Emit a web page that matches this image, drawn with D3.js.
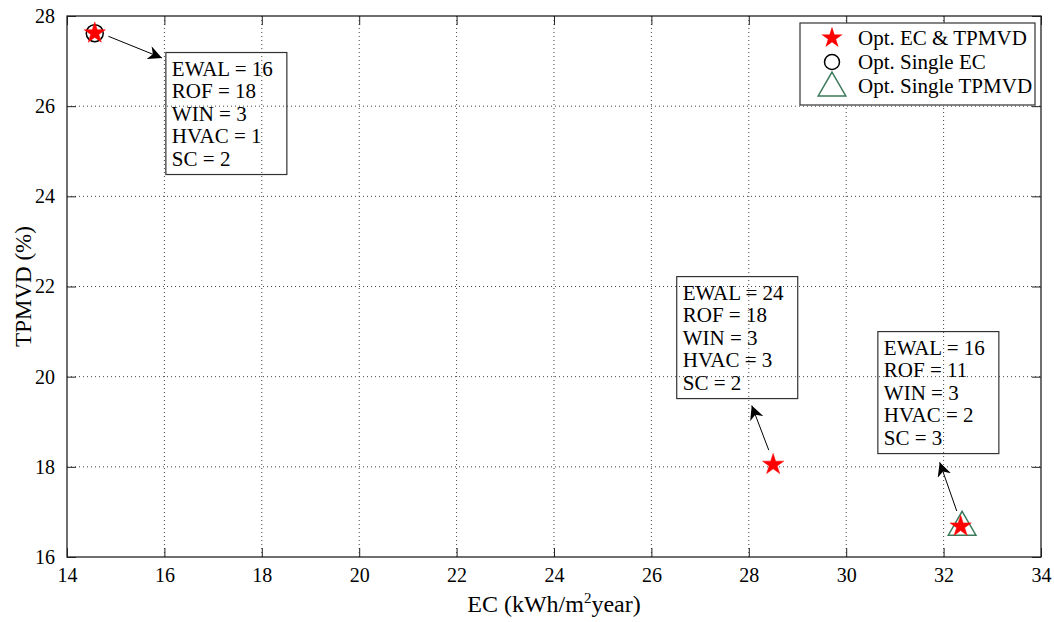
<!DOCTYPE html>
<html><head><meta charset="utf-8">
<script src="https://cdn.jsdelivr.net/npm/d3@7"></script>
<style>body{margin:0;background:#fff}svg{display:block}</style>
</head><body><svg id="c" width="1054" height="622"></svg>
<script>
const xTicks=[14,16,18,20,22,24,26,28,30,32,34];
const yTicks=[16,18,20,22,24,26,28];
const paretoPoints=[{x:14.57,y:27.62},{x:28.5,y:18.05},{x:32.35,y:16.68}];
const singleEC=[{x:14.57,y:27.62}];
const singleTPMVD=[{x:32.38,y:16.66}];
const annotations=[
 {from:[14.85,27.55],to:[15.95,27.07],box:[16.03,27.19],lines:["EWAL = 16","ROF = 18","WIN = 3","HVAC = 1","SC = 2"]},
 {from:[28.41,18.37],to:[28.06,19.36],box:[26.52,22.22],lines:["EWAL = 24","ROF = 18","WIN = 3","HVAC = 3","SC = 2"]},
 {from:[32.27,17.02],to:[31.92,18.1],box:[30.65,21.0],lines:["EWAL = 16","ROF = 11","WIN = 3","HVAC = 2","SC = 3"]}
];
const legendItems=["Opt. EC & TPMVD","Opt. Single EC","Opt. Single TPMVD"];

const FONT='"Liberation Serif", "Times New Roman", Times, serif';
const svg=d3.select("#c");
const L=67,R=1041,T=16,B=557;
const x=d3.scaleLinear().domain([14,34]).range([L,R]);
const y=d3.scaleLinear().domain([16,28]).range([B,T]);

// grid
const g=svg.append("g");
g.selectAll(".gx").data(xTicks.slice(1,-1)).join("line").attr("x1",d=>x(d)).attr("x2",d=>x(d)).attr("y1",T).attr("y2",B).attr("stroke","#444").attr("stroke-width",1).attr("stroke-dasharray","1,3");
g.selectAll(".gy").data(yTicks.slice(1,-1)).join("line").attr("y1",d=>y(d)).attr("y2",d=>y(d)).attr("x1",L).attr("x2",R).attr("stroke","#444").attr("stroke-width",1).attr("stroke-dasharray","1,3");

// axes
const ax=svg.append("g").attr("transform",`translate(0,${B})`).call(d3.axisBottom(x).tickValues(xTicks).tickSize(-9).tickPadding(11).tickFormat(d3.format("d")));
const ay=svg.append("g").attr("transform",`translate(${L},0)`).call(d3.axisLeft(y).tickValues(yTicks).tickSize(-9).tickPadding(12).tickFormat(d3.format("d")));
const axT=svg.append("g").attr("transform",`translate(0,${T})`).call(d3.axisTop(x).tickValues(xTicks).tickSize(-9).tickFormat(""));
const ayR=svg.append("g").attr("transform",`translate(${R},0)`).call(d3.axisRight(y).tickValues(yTicks).tickSize(-9).tickFormat(""));
[ax,ay,axT,ayR].forEach(a=>{a.attr("font-family",FONT).attr("font-size",20);a.select(".domain").remove();a.selectAll("line").attr("stroke","#222");a.selectAll("text").attr("fill","#000");});
svg.append("rect").attr("x",L).attr("y",T).attr("width",R-L).attr("height",B-T).attr("fill","none").attr("stroke","#222").attr("stroke-width",1.3);

// axis labels
svg.append("text").attr("x",(L+R)/2).attr("y",612).attr("text-anchor","middle").attr("font-family",FONT).attr("font-size",24)
 .html('EC (kWh/m<tspan dy="-9" font-size="15">2</tspan><tspan dy="9">year)</tspan>');
svg.append("text").attr("transform",`translate(31,${(T+B)/2}) rotate(-90)`).attr("text-anchor","middle").attr("font-family",FONT).attr("font-size",23).text("TPMVD (%)");

// markers
const star=d3.symbol().type(d3.symbolStar).size(140);
svg.selectAll(".c").data(singleEC).join("circle").attr("cx",d=>x(d.x)).attr("cy",d=>y(d.y)).attr("r",8.5).attr("fill","none").attr("stroke","#000").attr("stroke-width",1.5);
const tri=d3.symbol().type(d3.symbolTriangle).size(330);
svg.selectAll(".t").data(singleTPMVD).join("path").attr("d",tri).attr("transform",d=>`translate(${x(d.x)},${y(d.y)})`).attr("fill","none").attr("stroke","#3a7a5a").attr("stroke-width",1.5);
svg.selectAll(".s").data(paretoPoints).join("path").attr("d",star).attr("transform",d=>`translate(${x(d.x)},${y(d.y)})`).attr("fill","#ff0000").attr("stroke","#ff0000").attr("stroke-width",0.5);

// annotations
svg.append("defs").append("marker").attr("id","ah").attr("viewBox","0 0 10 10").attr("refX",10).attr("refY",5).attr("markerWidth",14).attr("markerHeight",14).attr("markerUnits","userSpaceOnUse").attr("orient","auto")
 .append("path").attr("d","M0,0 L10,5 L0,10 L3,5 Z").attr("fill","#000");
annotations.forEach(a=>{
 svg.append("line").attr("x1",x(a.from[0])).attr("y1",y(a.from[1])).attr("x2",x(a.to[0])).attr("y2",y(a.to[1])).attr("stroke","#000").attr("stroke-width",1).attr("marker-end","url(#ah)");
 const bx=x(a.box[0]), by=y(a.box[1]);
 svg.append("rect").attr("x",bx).attr("y",by).attr("width",121).attr("height",122).attr("fill","none").attr("stroke","#333").attr("stroke-width",1.2);
 a.lines.forEach((t,i)=>svg.append("text").attr("x",bx+6).attr("y",by+23+i*22.6).attr("font-family",FONT).attr("font-size",21).text(t));
});

// legend
const lg=svg.append("g");
lg.append("rect").attr("x",800).attr("y",23).attr("width",235).attr("height",82).attr("fill","#fff").attr("stroke","#333").attr("stroke-width",1.2);
legendItems.forEach((t,i)=>lg.append("text").attr("x",858).attr("y",45+i*24).attr("font-family",FONT).attr("font-size",21).text(t));
lg.append("path").attr("d",star).attr("transform","translate(832,38)").attr("fill","#ff0000");
lg.append("circle").attr("cx",832).attr("cy",62).attr("r",7.5).attr("fill","none").attr("stroke","#000").attr("stroke-width",1.5);
lg.append("path").attr("d",tri).attr("transform","translate(832,88)").attr("fill","none").attr("stroke","#3a7a5a").attr("stroke-width",1.5);
</script></body></html>
